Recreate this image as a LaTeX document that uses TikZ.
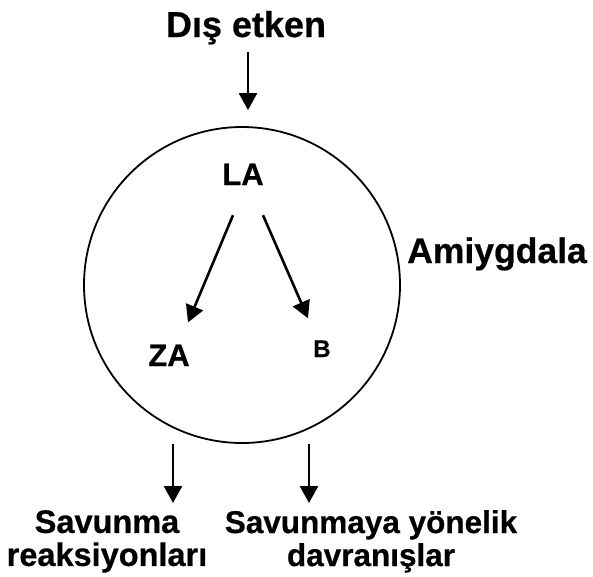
\documentclass[tikz,border=0pt]{standalone}
\usepackage{fontspec}
\setmainfont[BoldFeatures={FakeBold=0.6}]{Liberation Sans}
\usetikzlibrary{arrows.meta}
\begin{document}
\begin{tikzpicture}[x=1pt,y=1pt,
  lbl/.style={inner sep=0pt, font=\bfseries},
  arr/.style={line width=2.6pt, -{Triangle[width=18pt,length=17pt]}},
  ring/.style={circle, draw, line width=1.8pt, minimum size=316pt, inner sep=0pt}]
\useasboundingbox (0,0) rectangle (593,-576);
\node[ring] (amyg) at (242,-285) {};
\node[lbl, anchor=base, font=\bfseries\fontsize{36}{40}\selectfont] (title) at (246,-37) {Dış etken};
\node[lbl, anchor=base, font=\bfseries\fontsize{35.5}{40}\selectfont] (amlbl) at (497,-263) {Amiygdala};
\node[lbl, anchor=base, font=\bfseries\fontsize{31}{36}\selectfont] (la) at (243,-185) {LA};
\node[lbl, anchor=base, font=\bfseries\fontsize{31}{36}\selectfont] (za) at (169,-366) {ZA};
\node[lbl, anchor=base, font=\bfseries\fontsize{24}{30}\selectfont] (b) at (322,-357) {B};
\node[lbl, anchor=north, align=center, font=\bfseries\fontsize{32.5}{33}\selectfont] (sav1) at (107,-510) {Savunma\\reaksiyonları};
\node[lbl, anchor=north, align=center, font=\bfseries\fontsize{31.5}{33}\selectfont] (sav2) at (371,-510) {Savunmaya yönelik\\davranışlar};
\draw[arr] ([xshift=2pt,yshift=-7pt]title.south) -- ([xshift=6pt,yshift=16pt]amyg.north);
\draw[arr] ([xshift=-10pt,yshift=-30pt]la.south) -- ([xshift=19pt,yshift=22pt]za.north);
\draw[arr] ([xshift=20pt,yshift=-30pt]la.south) -- ([xshift=-14pt,yshift=22pt]b.north);
\draw[arr] ([xshift=-69pt]amyg.south) -- ([xshift=66pt,yshift=7pt]sav1.north);
\draw[arr] ([xshift=67pt]amyg.south) -- ([xshift=-62pt,yshift=7pt]sav2.north);
\end{tikzpicture}
\end{document}
